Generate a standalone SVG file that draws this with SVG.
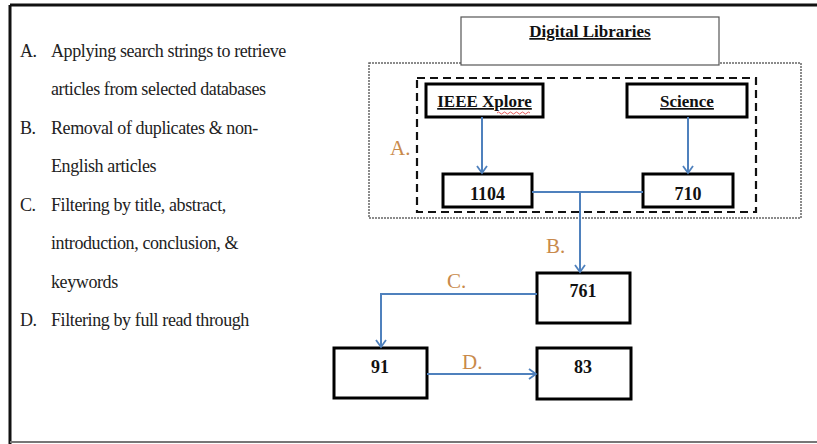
<svg xmlns="http://www.w3.org/2000/svg" width="817" height="444" viewBox="0 0 817 444">
<defs>
<marker id="ah" markerWidth="12" markerHeight="12" refX="9" refY="6" orient="auto" markerUnits="userSpaceOnUse">
<path d="M2,1 L9,6 L2,11" fill="none" stroke="#4F81BD" stroke-width="1.8"/>
</marker>
<style>
.lt{font-family:"Liberation Serif","Times New Roman",serif;font-size:18px;letter-spacing:-0.4px;fill:#222}
.box{fill:#fff;stroke:#000;stroke-width:3}
.num{font-family:"Liberation Serif","Times New Roman",serif;font-size:18px;font-weight:bold;fill:#111;text-anchor:middle}
.hd{font-family:"Liberation Serif","Times New Roman",serif;font-size:17px;font-weight:bold;fill:#111;text-anchor:middle;text-decoration:underline}
.lab{font-family:"Liberation Serif","Times New Roman",serif;font-size:21px;fill:#C98A4B}
.con{fill:none;stroke:#4F81BD;stroke-width:2}
</style>
</defs>
<rect x="0" y="0" width="817" height="444" fill="#fff"/>
<g id="frame">
<line x1="10" y1="5" x2="817" y2="5" stroke="#111" stroke-width="3"/>
<line x1="10" y1="5" x2="10" y2="444" stroke="#111" stroke-width="3"/>
<line x1="10" y1="442" x2="817" y2="442" stroke="#777" stroke-width="2"/>
</g>
<g id="legend">
<text class="lt" x="20" y="57">A.</text><text class="lt" x="51" y="57">Applying search strings to retrieve</text>
<text class="lt" x="51" y="95">articles from selected databases</text>
<text class="lt" x="20" y="134">B.</text><text class="lt" x="51" y="134">Removal of duplicates &amp; non-</text>
<text class="lt" x="51" y="172">English articles</text>
<text class="lt" x="20" y="211">C.</text><text class="lt" x="51" y="211">Filtering by title, abstract,</text>
<text class="lt" x="51" y="249">introduction, conclusion, &amp;</text>
<text class="lt" x="51" y="288">keywords</text>
<text class="lt" x="20" y="326">D.</text><text class="lt" x="51" y="326">Filtering by full read through</text>
</g>
<g id="group-dotted">
<rect x="369" y="63" width="432" height="155" fill="none" stroke="#666" stroke-width="1.5" stroke-dasharray="2 1"/>
</g>
<g id="digital-libraries">
<rect x="461" y="17" width="258" height="48" fill="#fff" stroke="#555" stroke-width="1.2"/>
<text class="hd" x="590" y="37" font-size="16">Digital Libraries</text>
</g>
<g id="group-dashed">
<rect x="417" y="78" width="339" height="134" fill="none" stroke="#111" stroke-width="2.2" stroke-dasharray="8 5"/>
</g>
<g id="ieee">
<rect class="box" x="426" y="84" width="117" height="33"/>
<text class="hd" x="484.5" y="107">IEEE Xplore</text>
<path d="M497,113 q1.5,-2 3,0 t3,0 t3,0 t3,0 t3,0 t3,0 t3,0 t3,0 t3,0 t3,0 t3,0" fill="none" stroke="#d33" stroke-width="0.8"/>
</g>
<g id="science">
<rect class="box" x="627" y="84" width="120" height="33"/>
<text class="hd" x="687" y="107">Science</text>
</g>
<g id="n1104">
<rect class="box" x="443" y="174" width="89" height="33"/>
<text class="num" x="487.5" y="200">1104</text>
</g>
<g id="n710">
<rect class="box" x="643" y="174" width="90" height="33"/>
<text class="num" x="688" y="200">710</text>
</g>
<g id="n761">
<rect class="box" x="537" y="273" width="93" height="50"/>
<text class="num" x="583" y="297">761</text>
</g>
<g id="n91">
<rect class="box" x="334" y="348" width="93" height="50"/>
<text class="num" x="380" y="373">91</text>
</g>
<g id="n83">
<rect class="box" x="537" y="348" width="94" height="51"/>
<text class="num" x="583" y="373">83</text>
</g>
<g id="connectors">
<line class="con" x1="482" y1="117" x2="482" y2="173" marker-end="url(#ah)"/>
<line class="con" x1="688" y1="117" x2="688" y2="173" marker-end="url(#ah)"/>
<line class="con" x1="532" y1="192" x2="643" y2="192"/>
<line class="con" x1="580" y1="192" x2="580" y2="272" marker-end="url(#ah)"/>
<path class="con" d="M537,294 H381 V347" marker-end="url(#ah)"/>
<line class="con" x1="427" y1="374" x2="536" y2="374" marker-end="url(#ah)"/>
</g>
<g id="labels">
<text class="lab" x="390" y="155">A.</text>
<text class="lab" x="546" y="253">B.</text>
<text class="lab" x="447" y="288">C.</text>
<text class="lab" x="462" y="369">D.</text>
</g>
</svg>
